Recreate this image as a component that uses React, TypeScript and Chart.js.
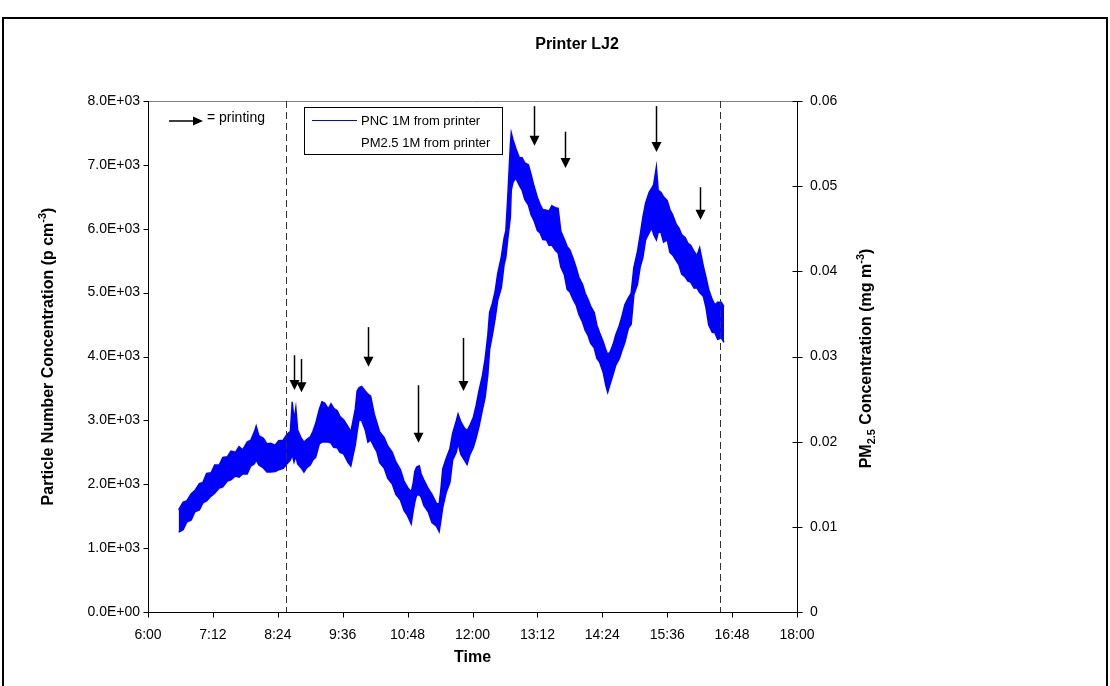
import React, { useEffect, useRef } from "react";
import { Chart, registerables } from "chart.js";

Chart.register(...registerables);

const FONT = '"Liberation Sans", Arial, sans-serif';

const CHART_TITLE = "Printer LJ2";
const X_TITLE = "Time";
const SERIES_PNC = "PNC 1M from printer";
const SERIES_PM = "PM2.5 1M from printer";
const PRINT_NOTE = "= printing";

// x axis: minutes after midnight
const X_MIN = 360;
const X_MAX = 1080;
const X_STEP = 72;
const Y_MAX = 8000;
const Y_STEP = 1000;
const Y1_MAX = 0.06;
const Y1_STEP = 0.01;

// PNC time series (minutes after midnight) with upper / lower band of the noisy trace
const PNC_TIME = [
  394, 399, 403, 408, 412, 417, 421, 425, 430, 434, 439, 443, 448, 452, 457, 461, 465, 470, 474, 478,
  480, 483, 488, 492, 496, 501, 505, 510, 514, 518, 520, 522, 524, 526, 530, 533, 536, 540, 543, 546,
  550, 553, 556, 560, 563, 566, 570, 573, 577, 582, 585, 587, 590, 592, 594, 597, 601, 604, 607, 611,
  614, 617, 622, 626, 631, 635, 640, 644, 648, 652, 654, 656, 658, 661, 663, 666, 671, 675, 680, 683,
  685, 687, 691, 695, 698, 702, 704, 707, 711, 714, 717, 721, 724, 727, 731, 734, 737, 739, 742, 745,
  748, 752, 755, 757, 759, 762, 763, 765, 768, 772, 775, 778, 782, 785, 788, 792, 795, 798, 802, 805,
  808, 812, 815, 818, 822, 825, 828, 832, 835, 838, 842, 845, 848, 851, 855, 858, 861, 865, 868, 870,
  873, 876, 879, 883, 886, 889, 893, 896, 899, 903, 906, 909, 912, 916, 919, 921, 924, 926, 929, 932,
  936, 939, 942, 946, 949, 952, 956, 959, 962, 966, 969, 972, 976, 979, 982, 986, 989, 992, 996, 999,
];
const PNC_HIGH = [
  1600, 1720, 1740, 1850, 1900, 2010, 2030, 2170, 2180, 2300, 2300, 2420, 2430, 2520, 2500, 2590, 2540, 2660, 2690, 2820,
  2910, 2760, 2720, 2630, 2640, 2610, 2680, 2690, 2780, 2830, 3290, 3000, 3195, 2850, 2720, 2660, 2700, 2740, 2830, 2950,
  3170, 3290, 3270, 3180, 3260, 3190, 3150, 3060, 3010, 2900, 2820, 2960, 3180, 3460, 3510, 3530, 3460, 3410, 3380, 3100,
  2960, 2820, 2730, 2600, 2500, 2350, 2230, 2050, 1950, 1880, 2000, 2200, 2270, 2290, 2160, 2070, 1930, 1840, 1700, 1690,
  1930, 2240, 2410, 2560, 2800, 2990, 3100, 2980, 2880, 2840, 2920, 3050, 3230, 3450, 3700, 3960, 4330, 4690, 4830, 5010,
  5300, 5560, 5850, 5970, 6460, 7310, 7500, 7390, 7260, 7110, 7110, 7030, 7000, 6850, 6680, 6490, 6380, 6300, 6290, 6280,
  6360, 6330, 6320, 5960, 5830, 5720, 5670, 5520, 5390, 5240, 5130, 4990, 4900, 4790, 4690, 4490, 4370, 4230, 4100, 4030,
  4080, 4190, 4340, 4490, 4640, 4810, 4920, 4990, 5390, 5640, 5900, 6180, 6400, 6570, 6640, 6690, 6965, 6600, 6570, 6500,
  6440, 6300, 6220, 6070, 6010, 5910, 5860, 5770, 5740, 5640, 5580, 5700, 5420, 5240, 5050, 4890, 4810, 4850, 4850, 4780,
];
const PNC_LOW = [
  1250, 1290, 1410, 1440, 1570, 1600, 1710, 1740, 1815, 1860, 1940, 1960, 2050, 2070, 2130, 2110, 2160, 2160, 2285, 2320,
  2380, 2300, 2255, 2190, 2190, 2200, 2225, 2250, 2315, 2380, 2460, 2350, 2440, 2320, 2255, 2190, 2255, 2300, 2380, 2420,
  2630, 2660, 2660, 2660, 2645, 2580, 2570, 2500, 2475, 2340, 2285, 2420, 2615, 2820, 3005, 3000, 2850, 2660, 2695, 2580,
  2505, 2340, 2255, 2090, 2005, 1840, 1755, 1590, 1505, 1380, 1565, 1720, 1830, 1830, 1800, 1670, 1565, 1400, 1345, 1260,
  1440, 1640, 1880, 2030, 2380, 2500, 2645, 2470, 2380, 2310, 2460, 2580, 2725, 2890, 3165, 3360, 3710, 4110, 4335, 4580,
  4885, 5080, 5435, 5550, 5825, 6180, 6605, 6730, 6795, 6680, 6605, 6460, 6370, 6220, 6135, 5970, 5935, 5830, 5825, 5740,
  5745, 5660, 5620, 5400, 5275, 5050, 5010, 4880, 4805, 4660, 4540, 4410, 4335, 4210, 4135, 3970, 3915, 3750, 3540, 3440,
  3585, 3720, 3865, 3970, 4100, 4220, 4445, 4500, 4965, 5130, 5400, 5550, 5825, 5940, 6010, 5910, 5825, 5940, 5950, 5790,
  5825, 5630, 5590, 5500, 5435, 5290, 5245, 5180, 5165, 5070, 5075, 5000, 4945, 4770, 4495, 4380, 4370, 4270, 4290, 4220,
];

// printing events: arrow time, arrow tail value, arrow tip value (PNC units)
const PRINT_TIME = [522, 530, 604, 660, 709, 788, 823, 924, 972];
const PRINT_ARROW_TOP = [4020, 3960, 4460, 3550, 4290, 7920, 7520, 7920, 6650];
const PRINT_ARROW_TIP = [3475, 3440, 3840, 2650, 3460, 7300, 6950, 7200, 6140];

// measurement period boundaries (dashed lines)
const PERIOD_BOUNDS = [513, 995];

const fmtTime = (m: number) => {
  const h = Math.floor(m / 60);
  const mm = Math.round(m - h * 60);
  return `${h}:${String(mm).padStart(2, "0")}`;
};
const fmtExp = (v: number) => {
  const [m, e] = v.toExponential(1).split("e");
  const n = parseInt(e, 10);
  return `${m}E${n < 0 ? "-" : "+"}${String(Math.abs(n)).padStart(2, "0")}`;
};

type Part = { t: string; size: number; dy: number };

function drawParts(ctx: CanvasRenderingContext2D, parts: Part[], cx: number, baseY: number) {
  let total = 0;
  const widths = parts.map((p) => {
    ctx.font = `bold ${p.size}px ${FONT}`;
    const w = ctx.measureText(p.t).width;
    total += w;
    return w;
  });
  let x = cx - total / 2;
  parts.forEach((p, i) => {
    ctx.font = `bold ${p.size}px ${FONT}`;
    ctx.fillText(p.t, x, baseY + p.dy);
    x += widths[i];
  });
}

const overlayPlugin = {
  id: "overlay",
  afterDraw(chart: any) {
    const { ctx, chartArea: ca, scales } = chart;
    const xs = scales.x;
    const ys = scales.y;
    const y1 = scales.y1;
    ctx.save();

    // outer frame
    ctx.strokeStyle = "#000";
    ctx.lineWidth = 2;
    ctx.beginPath();
    ctx.moveTo(3, 690);
    ctx.lineTo(3, 18);
    ctx.lineTo(1107, 18);
    ctx.lineTo(1107, 690);
    ctx.stroke();

    // plot area top edge
    ctx.strokeStyle = "#808080";
    ctx.lineWidth = 1;
    ctx.beginPath();
    ctx.moveTo(ca.left, Math.round(ca.top) + 0.5);
    ctx.lineTo(ca.right, Math.round(ca.top) + 0.5);
    ctx.stroke();

    // axes
    ctx.strokeStyle = "#000";
    ctx.lineWidth = 1;
    const L = Math.round(ca.left) + 0.5;
    const R = Math.round(ca.right) + 0.5;
    const B = Math.round(ca.bottom) + 0.5;
    ctx.beginPath();
    ctx.moveTo(L, ca.top);
    ctx.lineTo(L, B);
    ctx.lineTo(R, B);
    ctx.moveTo(R, ca.top);
    ctx.lineTo(R, B);
    ys.ticks.forEach((t: any) => {
      const y = Math.round(ys.getPixelForValue(t.value)) + 0.5;
      ctx.moveTo(L - 5, y);
      ctx.lineTo(L, y);
    });
    y1.ticks.forEach((t: any) => {
      const y = Math.round(y1.getPixelForValue(t.value)) + 0.5;
      ctx.moveTo(R - 5, y);
      ctx.lineTo(R + 5, y);
    });
    xs.ticks.forEach((t: any) => {
      const x = Math.round(xs.getPixelForValue(t.value)) + 0.5;
      ctx.moveTo(x, B);
      ctx.lineTo(x, B + 5);
    });
    ctx.stroke();

    // dashed period lines
    ctx.strokeStyle = "#333";
    ctx.setLineDash([7, 4]);
    ctx.beginPath();
    PERIOD_BOUNDS.forEach((m) => {
      const x = Math.round(xs.getPixelForValue(m)) + 0.5;
      ctx.moveTo(x, ca.top);
      ctx.lineTo(x, ca.bottom);
    });
    ctx.stroke();
    ctx.setLineDash([]);

    // printing arrows
    const arrow = (x: number, yTop: number, yTip: number) => {
      ctx.strokeStyle = "#000";
      ctx.fillStyle = "#000";
      ctx.lineWidth = 1.5;
      ctx.beginPath();
      ctx.moveTo(x, yTop);
      ctx.lineTo(x, yTip - 8);
      ctx.stroke();
      ctx.beginPath();
      ctx.moveTo(x, yTip);
      ctx.lineTo(x - 5, yTip - 10);
      ctx.lineTo(x + 5, yTip - 10);
      ctx.closePath();
      ctx.fill();
    };
    PRINT_TIME.forEach((m, i) => {
      const x = Math.round(xs.getPixelForValue(m)) + 0.5;
      arrow(x, ys.getPixelForValue(PRINT_ARROW_TOP[i]), ys.getPixelForValue(PRINT_ARROW_TIP[i]));
    });

    // "→ = printing" note
    ctx.strokeStyle = "#000";
    ctx.fillStyle = "#000";
    ctx.lineWidth = 1.5;
    ctx.beginPath();
    ctx.moveTo(169, 121);
    ctx.lineTo(195, 121);
    ctx.stroke();
    ctx.beginPath();
    ctx.moveTo(203, 121);
    ctx.lineTo(193, 116.5);
    ctx.lineTo(193, 125.5);
    ctx.closePath();
    ctx.fill();
    ctx.font = `14px ${FONT}`;
    ctx.textBaseline = "middle";
    ctx.textAlign = "left";
    ctx.fillText(PRINT_NOTE, 207, 118);

    // legend box
    ctx.strokeStyle = "#000";
    ctx.lineWidth = 1;
    ctx.strokeRect(304.5, 107.5, 198, 47);
    ctx.strokeStyle = "#0000FF";
    ctx.beginPath();
    ctx.moveTo(312, 120.5);
    ctx.lineTo(357, 120.5);
    ctx.stroke();
    ctx.fillStyle = "#000";
    ctx.font = `13px ${FONT}`;
    ctx.fillText(SERIES_PNC, 361, 121);
    ctx.fillText(SERIES_PM, 361, 143);

    // chart title
    ctx.textAlign = "center";
    ctx.font = `bold 16px ${FONT}`;
    ctx.fillText(CHART_TITLE, 577, 45);
    // x axis title
    ctx.fillText(X_TITLE, (ca.left + ca.right) / 2, 658);

    // left axis title
    ctx.textAlign = "left";
    ctx.textBaseline = "alphabetic";
    ctx.save();
    ctx.translate(53, (ca.top + ca.bottom) / 2);
    ctx.rotate(-Math.PI / 2);
    drawParts(ctx, [
      { t: "Particle Number Concentration (p cm", size: 16, dy: 0 },
      { t: "-3", size: 11, dy: -7 },
      { t: ")", size: 16, dy: 0 },
    ], 0, 0);
    ctx.restore();

    // right axis title
    ctx.save();
    ctx.translate(871, (ca.top + ca.bottom) / 2 + 2);
    ctx.rotate(-Math.PI / 2);
    drawParts(ctx, [
      { t: "PM", size: 16, dy: 0 },
      { t: "2.5", size: 11, dy: 4 },
      { t: " Concentration (mg m", size: 16, dy: 0 },
      { t: "-3", size: 11, dy: -7 },
      { t: ")", size: 16, dy: 0 },
    ], 0, 0);
    ctx.restore();

    ctx.restore();
  },
};

export default function App() {
  const ref = useRef<HTMLCanvasElement | null>(null);

  useEffect(() => {
    document.body.style.margin = "0";
    const canvas = ref.current;
    if (!canvas) return;
    const high = PNC_TIME.map((t, i) => ({ x: t, y: PNC_HIGH[i] }));
    const low = PNC_TIME.map((t, i) => ({ x: t, y: PNC_LOW[i] }));
    const tickFont = { family: FONT, size: 14 };

    const chart = new Chart(canvas, {
      type: "line",
      data: {
        datasets: [
          {
            label: SERIES_PNC,
            data: high,
            borderColor: "#0000FF",
            backgroundColor: "#0000FF",
            borderWidth: 1.5,
            pointRadius: 0,
            fill: "+1",
            tension: 0,
            yAxisID: "y",
          },
          {
            label: SERIES_PNC + " (lower band)",
            data: low,
            borderColor: "#0000FF",
            backgroundColor: "#0000FF",
            borderWidth: 1.5,
            pointRadius: 0,
            fill: false,
            tension: 0,
            yAxisID: "y",
          },
          {
            label: SERIES_PM,
            data: [],
            borderColor: "#FFFFFF",
            pointRadius: 0,
            yAxisID: "y1",
          },
        ],
      },
      options: {
        animation: false,
        responsive: false,
        events: [],
        layout: { padding: { top: 101, left: 0, right: 0, bottom: 0 } },
        plugins: {
          legend: { display: false },
          title: { display: false },
          tooltip: { enabled: false },
        },
        scales: {
          x: {
            type: "linear",
            min: X_MIN,
            max: X_MAX,
            grid: { display: false },
            border: { display: false },
            ticks: {
              stepSize: X_STEP,
              autoSkip: false,
              maxRotation: 0,
              padding: 7,
              color: "#000",
              font: tickFont,
              callback: (v: any) => fmtTime(Number(v)),
            },
            afterFit: (s: any) => {
              s.height = 74;
            },
          },
          y: {
            position: "left",
            min: 0,
            max: Y_MAX,
            grid: { display: false },
            border: { display: false },
            ticks: {
              stepSize: Y_STEP,
              padding: 0,
              color: "#000",
              font: tickFont,
              callback: (v: any) => fmtExp(Number(v)),
            },
            afterFit: (s: any) => {
              s.width = 148;
            },
          },
          y1: {
            position: "right",
            min: 0,
            max: Y1_MAX,
            grid: { display: false },
            border: { display: false },
            ticks: {
              stepSize: Y1_STEP,
              padding: 5,
              color: "#000",
              font: tickFont,
              callback: (v: any) => (Number(v) === 0 ? "0" : Number(v).toFixed(2)),
            },
            afterFit: (s: any) => {
              s.width = 313;
            },
          },
        },
      },
      plugins: [overlayPlugin],
    });
    return () => chart.destroy();
  }, []);

  return (
    <div style={{ width: 1110, height: 686, background: "#fff" }}>
      <canvas ref={ref} width={1110} height={686} style={{ display: "block", width: 1110, height: 686 }} />
    </div>
  );
}
